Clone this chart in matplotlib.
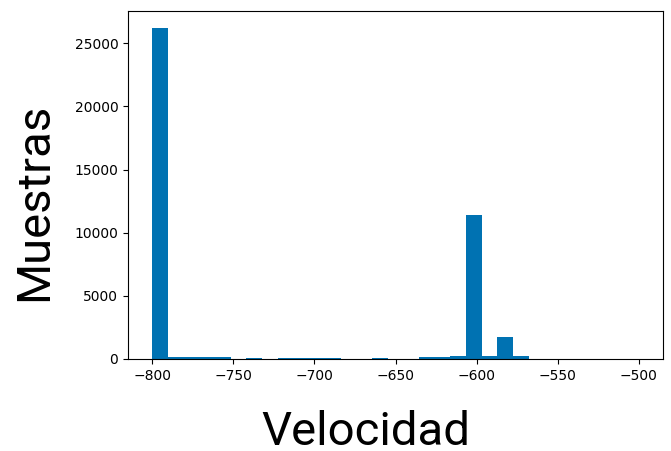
import numpy as np
import matplotlib
matplotlib.use('Agg')
import matplotlib.pyplot as plt

# histogram of velocities: 31 bins between -800 and -500
x_min = -800
x_max = -500
n_bins = 31
counts = [26250, 120, 120, 120, 120, 0, 110, 0, 110, 110,
          110, 110, 0, 0, 100, 0, 0, 130, 130, 260,
          11400, 220, 1780, 220, 0, 0, 0, 0, 0, 0, 0]

edges = np.linspace(x_min, x_max, n_bins + 1)
centers = (edges[:-1] + edges[1:]) / 2

fig = plt.figure(figsize=(6.71, 4.51), dpi=100)
ax = fig.add_axes([128 / 671, 92 / 451, 535 / 671, 348 / 451])

ax.hist(centers, bins=edges, weights=counts, color='#0072b2')
ax.set_yticks([0, 5000, 10000, 15000, 20000, 25000])
ax.set_xticks([-800, -750, -700, -650, -600, -550, -500])
ax.tick_params(labelsize=10)

fig.text(365.5 / 671, 6 / 451, 'Velocidad', family='Roboto', fontsize=34,
         ha='center', va='baseline')
fig.text(47 / 671, 1 - 201.5 / 451, 'Muestras', family='Roboto', fontsize=34,
         ha='center', va='baseline', rotation=90, rotation_mode='anchor')

fig.savefig('out.png', dpi=100)
